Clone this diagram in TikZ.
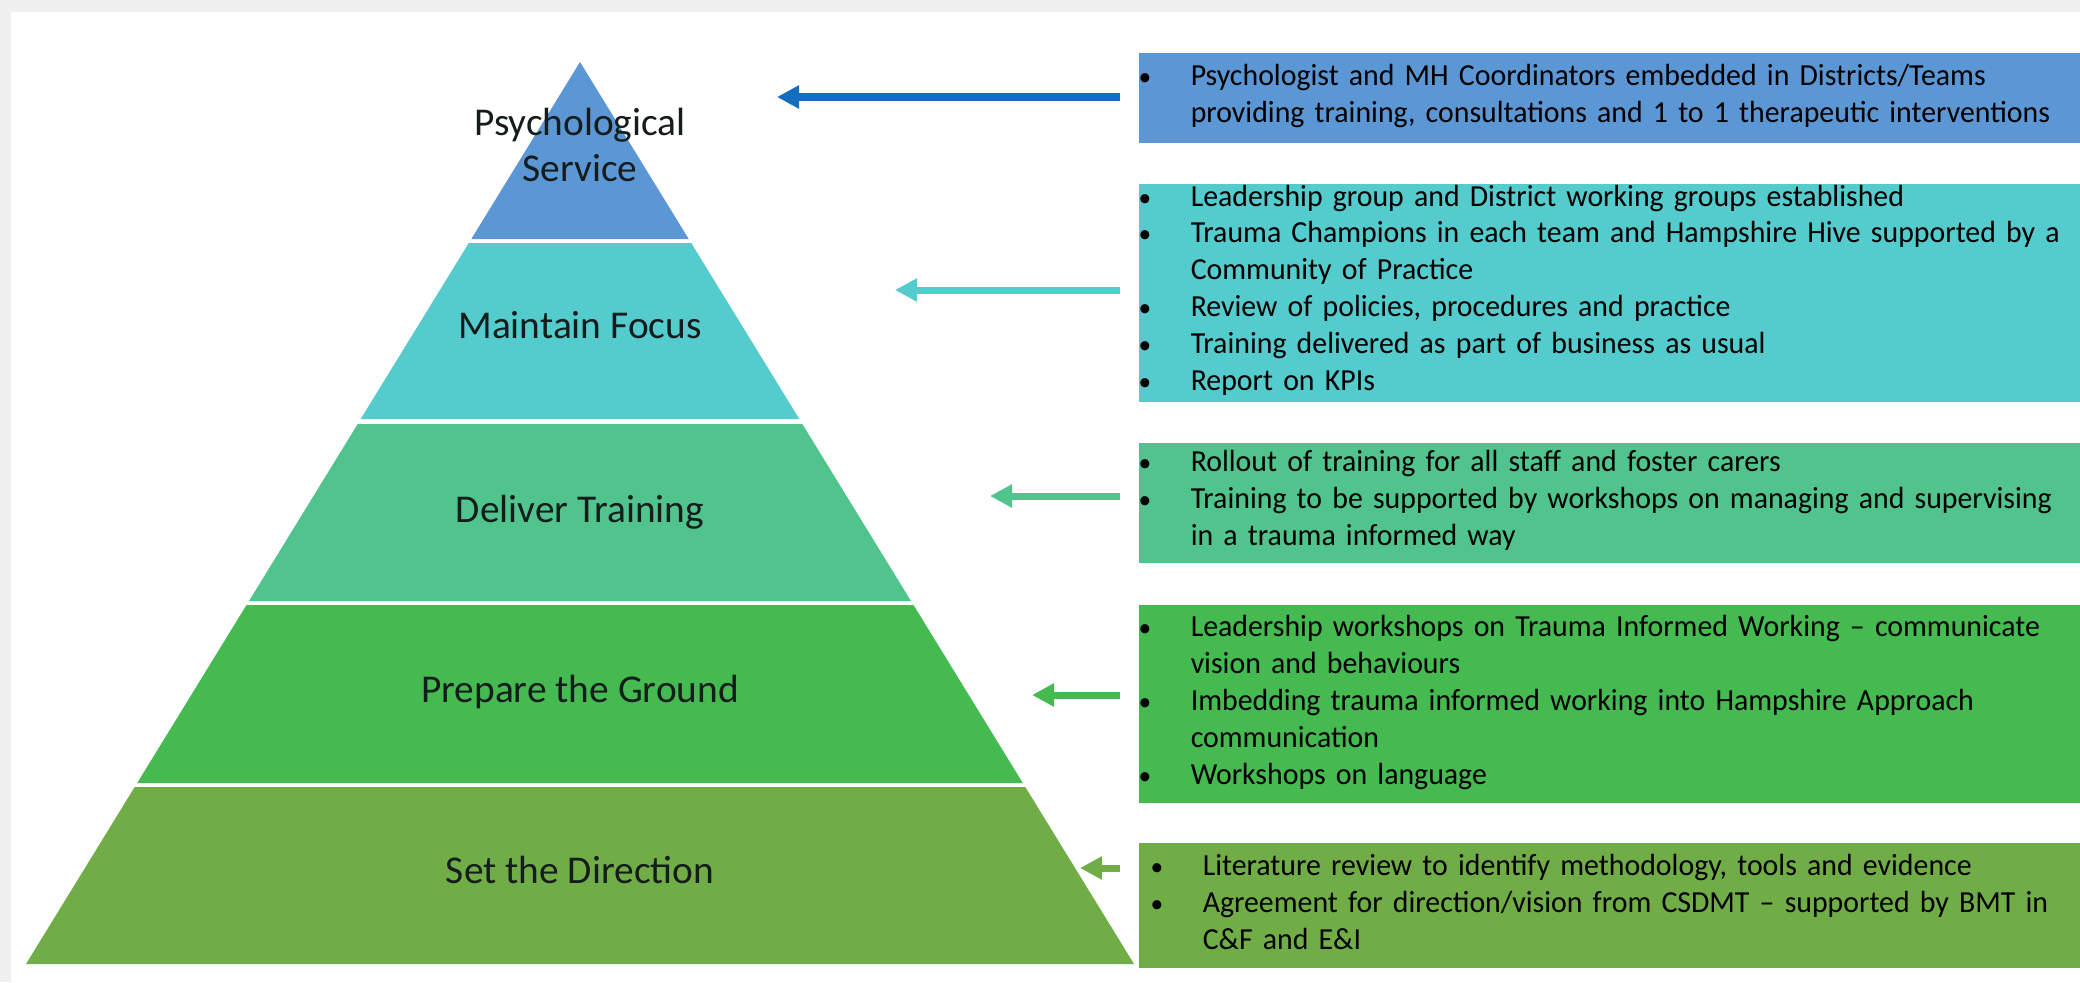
\documentclass[tikz,border=0pt]{standalone}
\usepackage{fontspec}
\setmainfont{Carlito}
\newfontfamily\boxfont[FakeStretch=0.975,Ligatures=TeX]{Carlito}
\usetikzlibrary{arrows.meta}
\definecolor{bggrey}{RGB}{240,240,240}
\definecolor{cOne}{RGB}{91,150,213}
\definecolor{cOneArrow}{RGB}{20,110,192}
\definecolor{cTwo}{RGB}{84,203,205}
\definecolor{cThree}{RGB}{80,196,140}
\definecolor{cFour}{RGB}{68,186,80}
\definecolor{cFive}{RGB}{112,173,71}
\definecolor{labeltext}{RGB}{20,28,28}
\newlength\bulind
\newlength\bulpre
\newcommand\bitem[1]{\noindent\hangindent=\bulind\hangafter=1\makebox[\bulind][l]{\hspace*{\bulpre}\scalebox{0.85}{\textbullet}}\strut#1\strut\par}
\begin{document}
\begin{tikzpicture}[x=0.01cm, y=-0.01cm,
  plabel/.style={font=\fontsize{11.2}{13.1}\selectfont, text=labeltext, inner sep=0pt},
  infobox/.style={rectangle, draw=none, inner sep=0pt, minimum width=9.42cm, anchor=north west},
  infotext/.style={anchor=west, inner sep=0pt, text width=9.6cm, align=left, font=\boxfont\fontsize{8.7}{10.5}\selectfont},
  pointer/.style={line width=0.07cm, shorten <=0.18cm, -{Triangle[width=0.22cm,length=0.22cm]}},
]
\useasboundingbox (0,0) rectangle (2080,982);
% background
\fill[bggrey] (0,0) rectangle (2080,982);
\fill[white] (11,12) rectangle (2080,982);

% pyramid levels
\fill[cOne] (580,62) -- (688.7,239) -- (471.3,239) -- cycle;
\fill[cTwo] (468.8,243) -- (691.2,243) -- (799.3,419) -- (360.7,419) -- cycle;
\fill[cThree] (357.7,424) -- (802.3,424) -- (911.0,601) -- (249.0,601) -- cycle;
\fill[cFour] (246.5,605) -- (913.5,605) -- (1022.8,783) -- (137.2,783) -- cycle;
\fill[cFive] (134.7,787) -- (1025.3,787) -- (1134,964) -- (26,964) -- cycle;

% pyramid labels
\node[plabel, align=center] (l1) at (580,145) {Psychological\\Service};
\node[plabel, anchor=base] (l2) at (580,338) {Maintain Focus};
\node[plabel, anchor=base] (l3) at (580,522) {Deliver Training};
\node[plabel, anchor=base] (l4) at (580,702) {Prepare the Ground};
\node[plabel, anchor=base] (l5) at (580,883) {Set the Direction};

% boxes
\node[infobox, fill=cOne, minimum height=0.90cm] (b1) at (1138,52) {};
\node[infobox, fill=cTwo, minimum height=2.18cm] (b2) at (1138,183) {};
\node[infobox, fill=cThree, minimum height=1.20cm] (b3) at (1138,442) {};
\node[infobox, fill=cFour, minimum height=1.98cm] (b4) at (1138,604) {};
\node[infobox, fill=cFive, minimum height=1.25cm] (b5) at (1138,842) {};

% box texts
\node[infotext] (b1t) at (1138,96.5) {\setlength\bulpre{0cm}\setlength\bulind{0.52cm}%
\bitem{Psychologist and MH Coordinators embedded in Districts/Teams\newline providing training, consultations and 1 to 1 therapeutic interventions}};
\node[infotext] (b2t) at (1138,291) {\setlength\bulpre{0cm}\setlength\bulind{0.52cm}%
\bitem{Leadership group and District working groups established}
\bitem{Trauma Champions in each team and Hampshire Hive supported by a\newline Community of Practice}
\bitem{Review of policies, procedures and practice}
\bitem{Training delivered as part of business as usual}
\bitem{Report on KPIs}};
\node[infotext] (b3t) at (1138,501) {\setlength\bulpre{0cm}\setlength\bulind{0.52cm}%
\bitem{Rollout of training for all staff and foster carers}
\bitem{Training to be supported by workshops on managing and supervising\newline in a trauma informed way}};
\node[infotext] (b4t) at (1138,703) {\setlength\bulpre{0cm}\setlength\bulind{0.52cm}%
\bitem{Leadership workshops on Trauma Informed Working \textendash{} communicate\newline vision and behaviours}
\bitem{Imbedding trauma informed working into Hampshire Approach\newline communication}
\bitem{Workshops on language}};
\node[infotext] (b5t) at (1138,905) {\setlength\bulpre{0.12cm}\setlength\bulind{0.64cm}%
\bitem{Literature review to identify methodology, tools and evidence}
\bitem{Agreement for direction/vision from CSDMT \textendash{} supported by BMT in\newline C\&F and E\&I}};

% arrow tips
\coordinate (t1) at (777,97);
\coordinate (t2) at (895,290);
\coordinate (t3) at (990,496);
\coordinate (t4) at (1032,695);
\coordinate (t5) at (1080,868);

\draw[pointer, draw=cOneArrow, fill=cOneArrow] (b1.west |- t1) -- (t1);
\draw[pointer, draw=cTwo, fill=cTwo] (b2.west |- t2) -- (t2);
\draw[pointer, draw=cThree, fill=cThree] (b3.west |- t3) -- (t3);
\draw[pointer, draw=cFour, fill=cFour] (b4.west |- t4) -- (t4);
\draw[pointer, draw=cFive, fill=cFive] (b5.west |- t5) -- (t5);
\end{tikzpicture}
\end{document}
